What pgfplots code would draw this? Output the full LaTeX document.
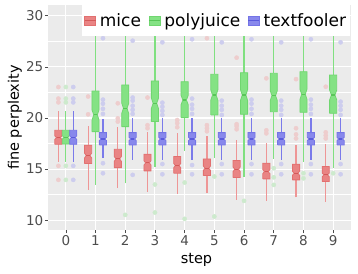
\documentclass[border=0pt]{standalone}
\usepackage{fontspec}
\setmainfont{DejaVu Sans}
\usepackage{pgfplots}
\pgfplotsset{compat=1.18}
\definecolor{bgc}{HTML}{EBEBEB}
\definecolor{tickc}{HTML}{4D4D4D}
\definecolor{mfill}{RGB}{233,132,132}
\definecolor{medge}{RGB}{226,112,112}
\definecolor{mmed}{RGB}{212,90,90}
\definecolor{mwh}{RGB}{238,150,150}
\definecolor{mout}{RGB}{238,205,205}
\definecolor{pfill}{RGB}{132,226,132}
\definecolor{pedge}{RGB}{112,214,112}
\definecolor{pmed}{RGB}{88,198,88}
\definecolor{pwh}{RGB}{128,224,128}
\definecolor{pout}{RGB}{205,234,205}
\definecolor{tfill}{RGB}{136,136,236}
\definecolor{tedge}{RGB}{116,116,230}
\definecolor{tmed}{RGB}{90,90,220}
\definecolor{twh}{RGB}{122,122,234}
\definecolor{tout}{RGB}{205,205,238}
% notched box: x position, lower whisker, lower quartile, median, upper quartile, upper whisker, colour prefix
\newcommand{\nbox}[7]{%
  \pgfmathsetmacro\xL{#1-0.12}\pgfmathsetmacro\xR{#1+0.12}%
  \pgfmathsetmacro\xLi{#1-0.06}\pgfmathsetmacro\xRi{#1+0.06}%
  \pgfmathsetmacro\nL{#4-0.13*(#5-#3)}\pgfmathsetmacro\nU{#4+0.13*(#5-#3)}%
  \edef\tmpplot{%
    \noexpand\addplot[forget plot, draw=#7wh, line width=1.2pt] coordinates {(#1,#5) (#1,#6)};
    \noexpand\addplot[forget plot, draw=#7wh, line width=1.2pt] coordinates {(#1,#2) (#1,#3)};
    \noexpand\addplot[forget plot, draw=#7edge, fill=#7fill, line width=0.8pt, line join=miter] coordinates {(\xL,#3) (\xL,\nL) (\xLi,#4) (\xL,\nU) (\xL,#5) (\xR,#5) (\xR,\nU) (\xRi,#4) (\xR,\nL) (\xR,#3) (\xL,#3)};
    \noexpand\addplot[forget plot, draw=#7med, line width=1.1pt] coordinates {(\xLi,#4) (\xRi,#4)};
  }\tmpplot
}
\begin{document}
\begin{tikzpicture}
\begin{axis}[
  scale only axis, width=303pt, height=225pt,
  xmin=-0.6, xmax=9.6, ymin=9.05, ymax=31.05,
  axis background/.style={fill=bgc},
  axis line style={draw=none},
  xtick={0,1,...,9}, ytick={10,15,20,25,30},
  minor ytick={12.5,17.5,22.5,27.5},
  grid=both,
  major grid style={white, line width=1.1pt},
  minor grid style={white, line width=0.5pt},
  tick align=outside, major tick length=3pt, minor tick length=0pt,
  tick style={tickc, line width=0.6pt},
  xtick pos=bottom, ytick pos=left,
  /pgf/number format/assume math mode=true,
  ticklabel style={font=\fontsize{13.5}{15}\selectfont, /tikz/text=tickc},
  yticklabel style={inner xsep=1.5pt},
  xticklabel style={inner ysep=2pt},
  xlabel={step}, ylabel={fine perplexity},
  label style={font=\fontsize{14.5}{16}\selectfont},
  xlabel style={at={(axis description cs:0.49,-0.1467)}, anchor=base, inner sep=0pt},
  ylabel style={at={(axis description cs:-0.0858,0.5)}, anchor=south, inner sep=0pt},
  legend style={at={(axis description cs:0.112,1)}, anchor=north west, draw=none, fill=white,
    legend columns=3, font=\fontsize{17}{20}\selectfont, inner xsep=2pt, inner ysep=6pt,
    nodes={inner sep=2pt},
    /tikz/every odd column/.append style={column sep=2pt},
    /tikz/every even column/.append style={column sep=5.5pt}},
  legend cell align=left,
]
% outliers
\addplot[forget plot, only marks, color=mout, mark=*, mark size=2.1pt, mark options={draw=mout, fill=mout}] table {
x y
-0.25 21.53
-0.25 21.9
-0.25 23.03
-0.25 15.32
-0.25 13.95
0.75 20.36
0.75 22.1
1.75 19.65
1.75 19.97
1.75 21.44
2.75 19.0
2.75 19.3
2.75 22.0
3.75 19.1
3.75 19.5
3.75 19.8
4.75 18.7
4.75 19.0
4.75 19.3
4.75 27.8
5.75 18.9
5.75 19.2
5.75 19.4
5.75 25.9
6.75 18.5
6.75 18.8
6.75 23.88
7.75 18.0
7.75 18.4
7.75 19.0
7.75 23.8
8.75 18.0
8.75 18.3
8.75 18.6
8.75 23.06
};
\addplot[forget plot, only marks, color=pout, mark=*, mark size=2.1pt, mark options={draw=pout, fill=pout}] table {
x y
0 21.53
0 21.9
0 23.03
0 15.32
0 13.95
2 10.53
3 13.5
3 10.76
4 13.69
4 10.14
5 14.28
5 10.37
6 11.9
7 15.09
7 14.2
7 13.46
8 14.6
8 14.1
9 14.6
};
\addplot[forget plot, only marks, color=tout, mark=*, mark size=2.1pt, mark options={draw=tout, fill=tout}] table {
x y
0.25 21.53
0.25 21.9
0.25 23.03
0.25 15.32
0.25 13.95
1.25 20.4
1.25 20.9
1.25 21.4
1.25 21.8
1.25 27.8
1.25 15.58
1.25 14.6
2.25 20.4
2.25 20.8
2.25 21.2
2.25 21.7
2.25 22.0
2.25 27.56
2.25 14.44
3.25 20.3
3.25 20.7
3.25 21.1
3.25 21.5
3.25 27.4
3.25 15.5
3.25 14.5
4.25 20.4
4.25 20.9
4.25 21.3
4.25 21.9
4.25 27.7
4.25 15.4
4.25 14.5
5.25 20.3
5.25 20.8
5.25 21.2
5.25 21.7
5.25 27.4
5.25 15.5
5.25 14.5
6.25 20.4
6.25 20.9
6.25 21.4
6.25 21.8
6.25 27.7
6.25 15.5
6.25 14.5
7.25 20.3
7.25 20.8
7.25 21.2
7.25 21.7
7.25 27.4
7.25 15.5
7.25 14.5
8.25 20.4
8.25 20.9
8.25 21.3
8.25 21.8
8.25 27.7
8.25 15.5
8.25 14.5
9.25 20.3
9.25 20.8
9.25 21.2
9.25 21.6
9.25 27.4
9.25 15.5
9.25 14.5
};
% boxes: x, lower whisker, Q1, median, Q3, upper whisker
\nbox{-0.25}{15.74}{17.43}{18.08}{18.80}{20.69}{m}
\nbox{0}{15.74}{17.45}{18.10}{18.80}{20.70}{p}
\nbox{0.25}{15.74}{17.43}{18.08}{18.80}{20.69}{t}
\nbox{0.75}{12.97}{15.55}{16.33}{17.34}{19.2}{m}
\nbox{1}{13.46}{18.67}{20.30}{22.64}{28.6}{p}
\nbox{1.25}{16.07}{17.37}{17.95}{18.57}{19.9}{t}
\nbox{1.75}{13.14}{15.15}{16.00}{16.94}{19.16}{m}
\nbox{2}{13.62}{19.16}{20.95}{23.23}{29.3}{p}
\nbox{2.25}{15.9}{17.37}{17.95}{18.57}{20.0}{t}
\nbox{2.75}{12.81}{14.83}{15.61}{16.46}{18.6}{m}
\nbox{3}{15.25}{19.65}{21.44}{23.62}{30.5}{p}
\nbox{3.25}{15.9}{17.37}{17.95}{18.57}{20.0}{t}
\nbox{3.75}{12.55}{14.60}{15.35}{16.23}{18.5}{m}
\nbox{4}{16.78}{20.04}{21.76}{23.55}{30.5}{p}
\nbox{4.25}{15.9}{17.37}{17.95}{18.57}{20.0}{t}
\nbox{4.75}{12.65}{14.37}{15.09}{16.00}{18.2}{m}
\nbox{5}{16.07}{20.30}{22.25}{24.27}{30.5}{p}
\nbox{5.25}{15.9}{17.37}{17.95}{18.57}{20.0}{t}
\nbox{5.75}{11.99}{14.18}{14.99}{15.84}{17.86}{m}
\nbox{6}{14.28}{20.36}{22.25}{24.43}{30.5}{p}
\nbox{6.25}{15.9}{17.37}{17.95}{18.57}{20.0}{t}
\nbox{6.75}{11.90}{14.05}{14.76}{15.58}{17.53}{m}
\nbox{7}{16.0}{20.62}{22.19}{24.37}{30.5}{p}
\nbox{7.25}{15.9}{17.37}{17.95}{18.57}{20.0}{t}
\nbox{7.75}{12.23}{13.95}{14.60}{15.48}{17.37}{m}
\nbox{8}{15.74}{20.56}{22.32}{24.53}{30.5}{p}
\nbox{8.25}{15.9}{17.37}{17.95}{18.57}{20.0}{t}
\nbox{8.75}{11.83}{13.79}{14.44}{15.25}{17.5}{m}
\nbox{9}{15.09}{20.46}{22.25}{24.20}{30.5}{p}
\nbox{9.25}{15.9}{17.37}{17.95}{18.57}{20.0}{t}
% legend
\addlegendimage{legend image code/.code={\draw[draw=medge,fill=mfill,line width=0.8pt] (0pt,-4.5pt) rectangle (11pt,4.5pt); \draw[mmed,line width=0.8pt] (0pt,0pt)--(11pt,0pt);}}
\addlegendentry{mice}
\addlegendimage{legend image code/.code={\draw[draw=pedge,fill=pfill,line width=0.8pt] (0pt,-4.5pt) rectangle (11pt,4.5pt); \draw[pmed,line width=0.8pt] (0pt,0pt)--(11pt,0pt);}}
\addlegendentry{polyjuice}
\addlegendimage{legend image code/.code={\draw[draw=tedge,fill=tfill,line width=0.8pt] (0pt,-4.5pt) rectangle (11pt,4.5pt); \draw[tmed,line width=0.8pt] (0pt,0pt)--(11pt,0pt);}}
\addlegendentry{textfooler}
\coordinate (pSW) at (rel axis cs:0,0);
\coordinate (pNE) at (rel axis cs:1,1);
\end{axis}
\pgfresetboundingbox
\path ([shift={(-48pt,-43pt)}]pSW) rectangle ([shift={(7pt,5pt)}]pNE);
\end{tikzpicture}
\end{document}
